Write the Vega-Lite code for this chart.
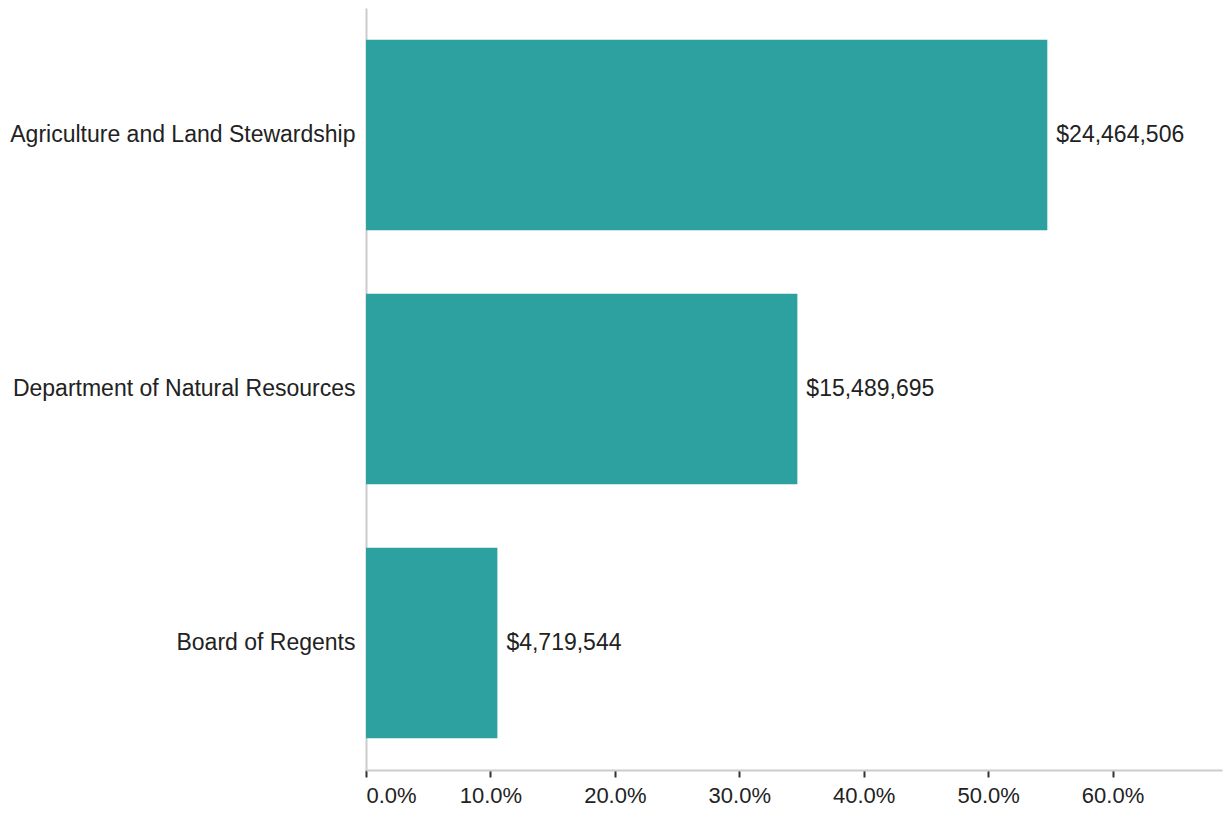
{
  "$schema": "https://vega.github.io/schema/vega-lite/v6.json",
  "autosize": "none",
  "width": 856,
  "height": 762,
  "padding": {"left": 366, "top": 8, "right": 2, "bottom": 43},
  "background": "white",
  "config": {"view": {"stroke": null}, "font": "Liberation Sans"},
  "data": {"values": [
    {"category": "Agriculture and Land Stewardship", "amount": 24464506, "share": 0.5476},
    {"category": "Department of Natural Resources", "amount": 15489695, "share": 0.3467},
    {"category": "Board of Regents", "amount": 4719544, "share": 0.1056}
  ]},
  "encoding": {
    "y": {"field": "category", "type": "nominal", "sort": null,
      "scale": {"paddingInner": 0.25, "paddingOuter": 0.125},
      "axis": {"title": null, "ticks": false, "labelFontSize": 23, "labelColor": "#222", "labelPadding": 11, "domainColor": "#cccccc", "domainWidth": 2, "labelLimit": 400}},
    "x": {"field": "share", "type": "quantitative",
      "scale": {"domain": [0, 0.688], "nice": false},
      "axis": {"title": null, "format": ".1%", "values": [0, 0.1, 0.2, 0.3, 0.4, 0.5, 0.6], "grid": false, "labelFontSize": 22, "labelColor": "#222", "domainColor": "#cccccc", "domainWidth": 2, "tickColor": "#333", "tickSize": 7, "tickWidth": 2, "labelPadding": 8, "labelFlush": true}}
  },
  "layer": [
    {"mark": {"type": "bar", "color": "#2ca1a0"}},
    {"mark": {"type": "text", "align": "left", "dx": 9, "fontSize": 23, "color": "#222"},
     "encoding": {"text": {"field": "amount", "type": "quantitative", "format": "$,.0f"}}}
  ]
}
